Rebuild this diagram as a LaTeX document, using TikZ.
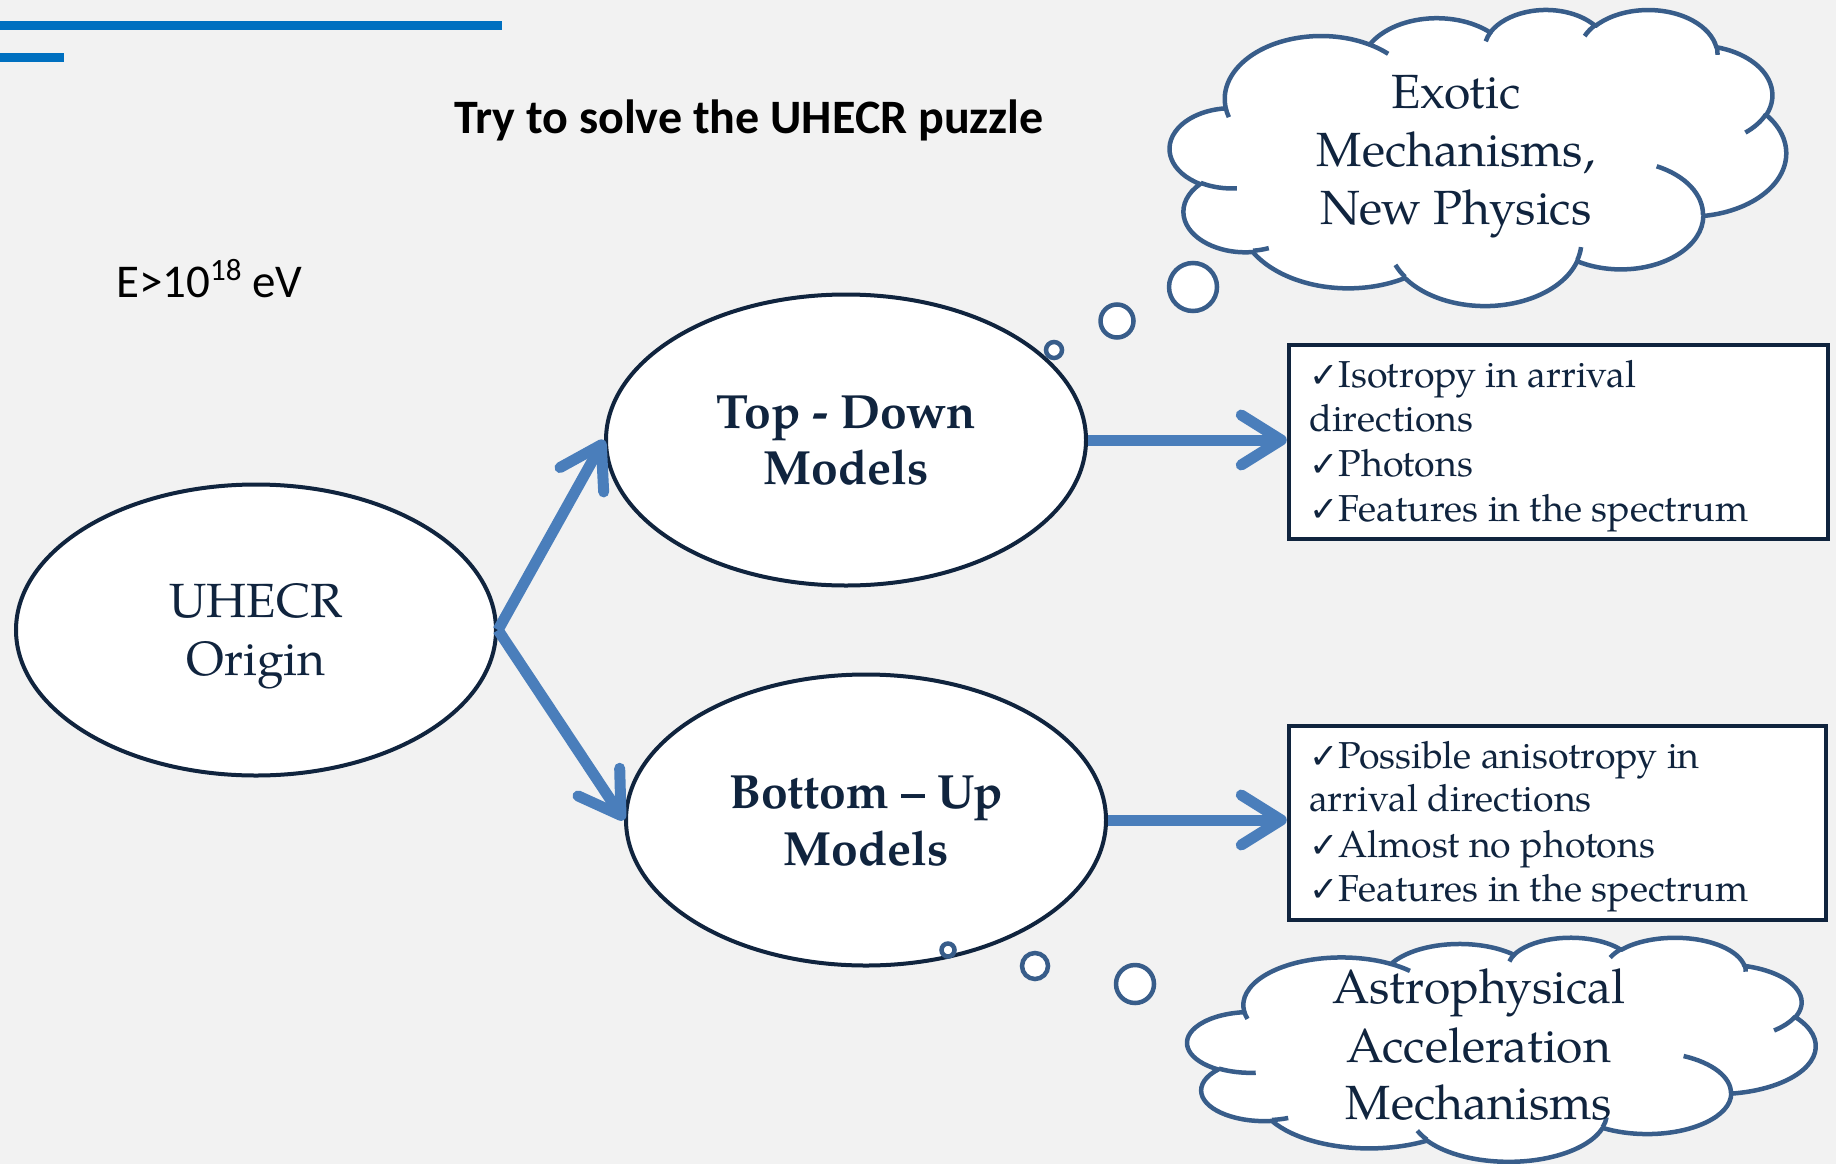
\documentclass[tikz,border=0pt]{standalone}
\usepackage{fontspec}
\setmainfont{TeX Gyre Pagella}
\newfontfamily\carlito{Carlito}
\newfontfamily\dejavu{DejaVu Sans}
\usetikzlibrary{arrows.meta,shapes.geometric}

\definecolor{pagebg}{HTML}{F2F2F2}
\definecolor{navy}{HTML}{10243E}
\definecolor{cloudline}{HTML}{385D8A}
\definecolor{flow}{HTML}{4A7EBB}
\definecolor{band}{HTML}{0070C0}

\newcommand\chk{{\dejavu\bfseries\fontsize{35}{35}\selectfont ✓}}

\tikzset{
  % elliptical arc given by radii, visual start angle and sweep (DrawingML style)
  carc/.style n args={4}{insert path={%
    \pgfextra{%
      \pgfmathsetmacro\ArcA{atan2((#1)*sin(#3),(#2)*cos(#3))}%
      \pgfmathsetmacro\ArcB{atan2((#1)*sin((#3)+(#4)),(#2)*cos((#3)+(#4)))}%
      \pgfmathsetmacro\ArcB{(\ArcA)+mod((\ArcB)-(\ArcA)+720,360)}%
      \global\let\ArcA\ArcA\global\let\ArcB\ArcB}%
    arc[x radius=#1, y radius=#2, start angle=\ArcA, end angle=\ArcB]}},
  cloudbody/.style={insert path={
    [carc={67.53}{91.90}{-190.4875}{123.7805}]
    [carc={53.33}{72.67}{-144.1024}{89.9452}]
    [carc={43.65}{59.45}{-145.8079}{99.7230}]
    [carc={48.57}{65.95}{-130.9861}{117.2417}]
    [carc={53.33}{72.73}{-78.7089}{109.0269}]
    [carc={67.75}{92.20}{-46.2673}{130.2690}]
    [carc={57.85}{78.67}{0.6250}{114.0333}]
    [carc={67.52}{92.15}{22.4516}{115.1726}]
    [carc={77.20}{105.43}{66.2426}{75.7110}]
    [carc={43.60}{59.18}{-274.9421}{146.7356}]
    [carc={43.45}{59.45}{-246.8285}{152.5189}]}},
  cloudcreases/.style={insert path={
    [carc={43.45}{59.45}{86.7420}{26.4295}]
    (69.28,348.99) [carc={43.60}{59.18}{73.6105}{11.4475}]
    (164.78,390.90) [carc={67.52}{92.15}{137.6242}{14.0811}]
    (288.27,347.51) [carc={67.52}{92.15}{6.4533}{15.9984}]
    (341.29,229.54) [carc={57.85}{78.67}{-70.2924}{70.9174}]
    (417.98,153.54) [carc={53.33}{72.73}{30.3180}{27.7515}]
    (383.24,54.26) [carc={48.57}{65.95}{-13.7443}{14.8589}]
    (290.78,39.52) [carc={48.57}{65.95}{-149.1815}{18.1954}]
    (221.41,47.20) [carc={43.65}{59.45}{-163.4943}{17.6864}]
    (140.00,51.92) [carc={67.53}{91.90}{-66.7070}{12.3194}]
    (41.27,157.89) [carc={67.53}{91.90}{157.6544}{11.8582}]}},
  cloudfill/.style={fill=white, draw=cloudline, line width=4.5pt, line join=round},
  cloudedge/.style={draw=cloudline, line width=4.5pt, line cap=butt},
  oval/.style={ellipse, draw=navy, line width=4pt, fill=white,
    minimum width=480, minimum height=291, inner sep=0},
  listbox/.style={rectangle, draw=navy, line width=4.5pt, fill=white, inner sep=0},
  bubble/.style={circle, draw=cloudline, line width=4.5pt, fill=white, inner sep=0},
  flowarrow/.style={draw=flow, line width=11pt,
    -{Straight Barb[round, length=40pt, width=50pt]}},
  ovaltext/.style={anchor=base, inner sep=0, text=navy,
    font=\fontsize{48}{56}\selectfont},
  ovalbold/.style={ovaltext, font=\fontsize{48}{56}\selectfont\bfseries},
  cloudtext/.style={anchor=base, inner sep=0, text=navy,
    font=\fontsize{48}{58}\selectfont},
  boxline/.style={anchor=base west, inner sep=0, text=navy,
    font=\fontsize{37.5}{44}\selectfont},
}

\begin{document}
\begin{tikzpicture}[x=1pt, y=-1pt]
\useasboundingbox[fill=pagebg] (0,0) rectangle (1836,1164);

% header bands
\fill[band] (0,21) rectangle (502,30);
\fill[band] (0,53) rectangle (64,62);

% heading and energy range
\node[anchor=base, inner sep=0] (title) at (749,133)
  {\carlito\fontsize{48}{52}\selectfont\bfseries Try to solve the UHECR puzzle};
\node[anchor=base west, inner sep=0] (energy) at (116,297)
  {\carlito\fontsize{47}{50}\selectfont E>10\raisebox{0.36em}{\fontsize{31}{31}\selectfont 18} eV};

% model ellipses
\node[oval] (origin) at (256,630) {};
\node[oval] (topdown) at (846,440) {};
\node[oval] (bottomup) at (866,820) {};

\node[ovaltext] (origin-a) at (256,617) {UHECR};
\node[ovaltext] (origin-b) at (256,675) {Origin};
\node[ovalbold] (topdown-a) at (846,428) {Top - Down};
\node[ovalbold] (topdown-b) at (846,484) {Models};
\node[ovalbold] (bottomup-a) at (866,808) {Bottom – Up};
\node[ovalbold] (bottomup-b) at (866,865) {Models};

% signature boxes
\node[listbox, minimum width=539, minimum height=194] (tdbox) at (1558.5,442) {};
\node[listbox, minimum width=537, minimum height=194] (bubox) at (1557.5,823) {};

\node[boxline] (td1) at (1309,387) {\chk Isotropy in arrival};
\node[boxline] (td2) at (1309,431) {directions};
\node[boxline] (td3) at (1309,476) {\chk Photons};
\node[boxline] (td4) at (1309,521) {\chk Features in the spectrum};

\node[boxline] (bu1) at (1309,768) {\chk Possible anisotropy in};
\node[boxline] (bu2) at (1309,811) {arrival directions};
\node[boxline] (bu3) at (1309,857) {\chk Almost no photons};
\node[boxline] (bu4) at (1309,901) {\chk Features in the spectrum};

% connectors
\draw[flowarrow] (origin.east) -- (topdown.west);
\draw[flowarrow] (origin.east) -- (bottomup.west);
\draw[flowarrow] (topdown.east) -- (topdown.east -| tdbox.west);
\draw[flowarrow] (bottomup.east) -- (bottomup.east -| bubox.west);

% thought clouds
\begin{scope}[shift={(1170,9)}, x=1.425926pt, y=-0.685185pt]
  \path[cloudfill] (39.00,143.70) [cloudbody] -- cycle;
  \path[cloudedge] (46.93,261.77) [cloudcreases];
\end{scope}
\begin{scope}[shift={(1187.5,937)}, x=1.453704pt, y=-0.518519pt]
  \path[cloudfill] (39.00,143.70) [cloudbody] -- cycle;
  \path[cloudedge] (46.93,261.77) [cloudcreases];
\end{scope}

\node[cloudtext] (exotic-a) at (1456,108) {Exotic};
\node[cloudtext] (exotic-b) at (1456,166) {Mechanisms,};
\node[cloudtext] (exotic-c) at (1456,224) {New Physics};

\node[cloudtext] (astro-a) at (1479,1003) {Astrophysical};
\node[cloudtext] (astro-b) at (1479,1062) {Acceleration};
\node[cloudtext] (astro-c) at (1479,1119) {Mechanisms};

% thought bubbles
\node[bubble, minimum size=16] (tb1) at (1054,350) {};
\node[bubble, minimum size=33] (tb2) at (1117,321) {};
\node[bubble, minimum size=48] (tb3) at (1193,287) {};
\node[bubble, minimum size=13] (bb1) at (948,950) {};
\node[bubble, minimum size=26] (bb2) at (1035,966) {};
\node[bubble, minimum size=38] (bb3) at (1135,984) {};
\end{tikzpicture}
\end{document}
